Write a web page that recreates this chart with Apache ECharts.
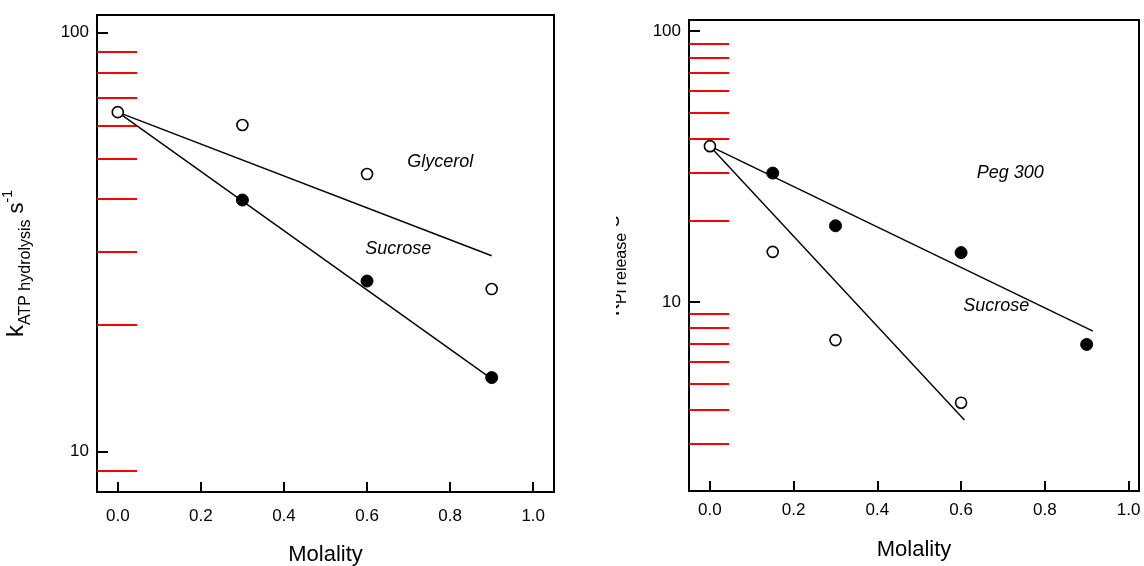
<!DOCTYPE html>
<html>
<head>
<meta charset="utf-8">
<script src="https://cdn.jsdelivr.net/npm/echarts@6/dist/echarts.min.js"></script>
<style>
  html, body { margin: 0; padding: 0; background: #fff; }
  #chart { width: 1144px; height: 566px; }
</style>
</head>
<body>
<div id="chart"></div>
<script>
  const FONT = '"Liberation Sans", Arial, sans-serif';

  // ticks
  const xTicks = [0, 0.2, 0.4, 0.6, 0.8, 1.0];
  const yMajorTicks = [10, 100];
  const leftMinorTicks = [9, 20, 30, 40, 50, 60, 70, 80, 90];
  const rightMinorTicks = [3, 4, 5, 6, 7, 8, 9, 20, 30, 40, 50, 60, 70, 80, 90];

  // left panel: k ATP hydrolysis
  const glycerolPts = [[0, 64.5], [0.3, 60.1], [0.6, 45.9], [0.9, 24.4]];
  const sucroseLeftPts = [[0.3, 39.8], [0.6, 25.5], [0.9, 15.0]];
  const glycerolFit = [[0, 64.5], [0.9, 29.3]];
  const sucroseLeftFit = [[0, 64.5], [0.9, 14.9]];
  const leftNotes = [{ name: 'Glycerol', value: [0.776, 49.0] }, { name: 'Sucrose', value: [0.675, 30.4] }];

  // right panel: k Pi release
  const sucroseRightPts = [[0, 37.6], [0.15, 15.3], [0.3, 7.22], [0.6, 4.24]];
  const pegPts = [[0.15, 29.9], [0.3, 19.1], [0.6, 15.2], [0.9, 6.96]];
  const pegFit = [[0, 37.6], [0.915, 7.8]];
  const sucroseRightFit = [[0, 37.6], [0.608, 3.66]];
  const rightNotes = [{ name: 'Peg 300', value: [0.7175, 29.9] }, { name: 'Sucrose', value: [0.684, 9.65] }];

  const chart = echarts.init(document.getElementById('chart'));

  const axisLine = { show: true, onZero: false, lineStyle: { color: '#000', width: 2 } };

  function xAxis(gridIndex, max, margin, gap) {
    return {
      gridIndex, type: 'value', min: -0.05, max,
      axisLine,
      axisTick: { inside: true, length: 10, interval: 0, lineStyle: { color: '#000', width: 2 }, customValues: xTicks },
      axisLabel: { customValues: xTicks, interval: 0, formatter: (v) => v.toFixed(1), margin, fontSize: 17, color: '#000', fontFamily: FONT },
      splitLine: { show: false },
      name: 'Molality', nameLocation: 'middle', nameGap: gap,
      nameTextStyle: { fontSize: 22, color: '#000', fontFamily: FONT }
    };
  }

  function yMajor(gridIndex, min) {
    return {
      gridIndex, type: 'log', logBase: 10, min, max: 110, position: 'left',
      axisLine,
      axisTick: { inside: true, length: 11, interval: 0, lineStyle: { color: '#000', width: 2 }, customValues: yMajorTicks },
      axisLabel: { customValues: yMajorTicks, interval: 0, margin: 8, fontSize: 17, color: '#000', fontFamily: FONT },
      splitLine: { show: false }
    };
  }

  // minor ticks (diagnostic colour/length to check they all draw)
  function yMinor(gridIndex, min, ticks) {
    return {
      gridIndex, type: 'log', logBase: 10, min, max: 110, position: 'left',
      axisLine: { show: false, onZero: false },
      axisTick: { inside: true, length: 40, interval: 0, lineStyle: { color: 'red', width: 2 }, customValues: ticks },
      axisLabel: { show: true, customValues: ticks, interval: 0, hideOverlap: false, fontSize: 6, color: '#fff', margin: 2 },
      splitLine: { show: false }
    };
  }

  function fitLine(data, xi, yi) {
    return {
      type: 'line', data, xAxisIndex: xi, yAxisIndex: yi, symbol: 'none', silent: true,
      lineStyle: { color: '#000', width: 1.4 }, z: 2
    };
  }

  function dots(data, xi, yi, filled) {
    return {
      type: 'scatter', data, xAxisIndex: xi, yAxisIndex: yi, symbol: 'circle',
      symbolSize: filled ? 12 : 11, silent: true, z: 3,
      itemStyle: filled
        ? { color: '#000', borderColor: '#000', borderWidth: 1, opacity: 1 }
        : { color: '#fff', borderColor: '#000', borderWidth: 1.6, opacity: 1 }
    };
  }

  function notes(data, xi, yi) {
    return {
      type: 'scatter', data, xAxisIndex: xi, yAxisIndex: yi, symbolSize: 1, silent: true, z: 4,
      itemStyle: { color: 'transparent', opacity: 1 },
      label: { show: true, position: 'inside', formatter: '{b}', fontStyle: 'italic', fontSize: 18, color: '#000', opacity: 1, fontFamily: FONT }
    };
  }

  // rotated y titles built from pieces (k, subscript, s, superscript)
  const ctx = document.createElement('canvas').getContext('2d');
  function rotatedTitle(x, y, sub, z) {
    const parts = [
      { t: 'k', size: 24, shift: 0 },
      { t: sub, size: 16, shift: 6 },
      { t: ' s', size: 22, shift: 0 },
      { t: '-1', size: 14, shift: -12 }
    ];
    let pos = 0;
    const children = parts.map((p) => {
      const font = p.size + 'px ' + FONT;
      ctx.font = font;
      const w = ctx.measureText(p.t).width;
      const el = {
        type: 'text', x: pos, y: p.shift - 0.35 * p.size, z,
        style: { text: p.t, font, fill: '#000', align: 'left', verticalAlign: 'middle' }
      };
      pos += w;
      return el;
    });
    return { type: 'group', x, y, rotation: Math.PI / 2, children };
  }

  const gridBase = { show: true, borderColor: '#000', borderWidth: 2, backgroundColor: 'transparent', containLabel: false, outerBoundsMode: 'none' };

  chart.setOption({
    animation: false,
    grid: [
      Object.assign({ left: 97, top: 15, width: 457, height: 477 }, gridBase),
      Object.assign({ left: 689, top: 20, width: 450, height: 471 }, gridBase)
    ],
    xAxis: [xAxis(0, 1.05, 16, 52), xAxis(1, 1.025, 11, 48)],
    yAxis: [yMinor(0, 8, leftMinorTicks), yMajor(0, 8), yMinor(1, 2, rightMinorTicks), yMajor(1, 2)],
    series: [
      fitLine(glycerolFit, 0, 1),
      fitLine(sucroseLeftFit, 0, 1),
      dots(glycerolPts, 0, 1, false),
      dots(sucroseLeftPts, 0, 1, true),
      notes(leftNotes, 0, 1),
      fitLine(pegFit, 1, 3),
      fitLine(sucroseRightFit, 1, 3),
      dots(sucroseRightPts, 1, 3, false),
      dots(pegPts, 1, 3, true),
      notes(rightNotes, 1, 3)
    ],
    graphic: [
      rotatedTitle(25, 337, 'ATP hydrolysis', 10),
      rotatedTitle(621, 316, 'Pi release', 10),
      { type: 'rect', shape: { x: 556, y: 140, width: 60, height: 220 }, style: { fill: '#fff' }, z: 20, silent: true }
    ]
  });
</script>
</body>
</html>
